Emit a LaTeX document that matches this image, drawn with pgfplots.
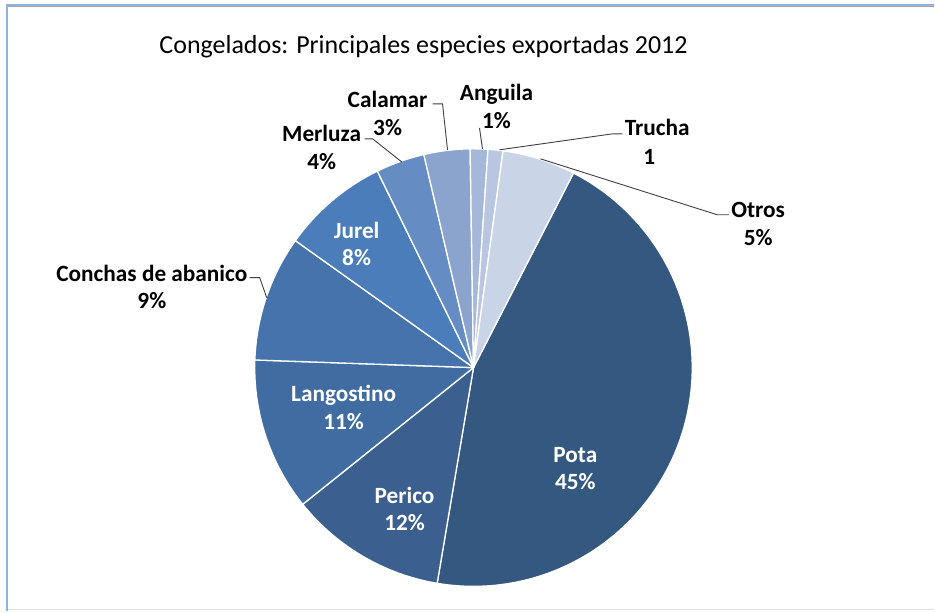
\documentclass[border=0pt]{standalone}
\usepackage{pgfplots}
\pgfplotsset{compat=1.18}
\usepackage{pgfplotstable}
\usepackage{fontspec}
\setmainfont{Carlito}

\definecolor{c0}{HTML}{34587F}
\definecolor{c1}{HTML}{3B6090}
\definecolor{c2}{HTML}{416CA2}
\definecolor{c3}{HTML}{4673AC}
\definecolor{c4}{HTML}{4B7DBA}
\definecolor{c5}{HTML}{668DC3}
\definecolor{c6}{HTML}{8AA4CE}
\definecolor{c7}{HTML}{A6B8DA}
\definecolor{c8}{HTML}{B9C6E2}
\definecolor{c9}{HTML}{CAD4E7}
\definecolor{frameblue}{HTML}{8EB2DE}
\definecolor{leader}{HTML}{404040}

% slice shares (percent), clockwise from "Pota"
\pgfplotstableread{
name value
Pota 45.1
Perico 11.6
Langostino 11.3
Conchas 9.3
Jurel 7.9
Merluza 3.6
Calamar 3.4
Anguila 1.3
Trucha 1.1
Otros 5.4
}\slices

\def\cumang{62.8}
\foreach \i in {0,...,9}{%
  \pgfplotstablegetelem{\i}{value}\of\slices
  \pgfmathsetmacro\endang{\cumang-3.6*\pgfplotsretval}%
  \expandafter\xdef\csname S\i\endcsname{\cumang}%
  \expandafter\xdef\csname E\i\endcsname{\endang}%
  \xdef\cumang{\endang}%
}

\begin{document}
\begin{tikzpicture}
\begin{axis}[
  x=1pt, y=1pt,
  xmin=0, xmax=935, ymin=0, ymax=612,
  hide axis, clip=false,
  anchor=origin, at={(0,0)},
]
\fill[white] (axis cs:0,0) rectangle (axis cs:935,612);
\draw[gray!25, line width=1pt] (axis cs:7,2) -- (axis cs:935,2);
\draw[gray!70, line width=1pt] (axis cs:7,605.5) -- (axis cs:935,605.5);
\draw[frameblue, line width=2pt] (axis cs:7,0) -- (axis cs:7,607) -- (axis cs:935,607);

\pgfplotsinvokeforeach{0,...,9}{%
  \edef\tmp{\noexpand\addplot[fill=c#1, draw=white, line width=1.3pt, line join=round,
     domain=\csname E#1\endcsname:\csname S#1\endcsname, samples=90, variable=\noexpand\t]}%
  \tmp ({474+219*cos(\t)},{244+219*sin(\t)}) -- (axis cs:474,244) -- cycle;
}

% leader lines
\addplot[leader, line width=0.9pt] coordinates {(433,508) (443,508) (448,462)};
\addplot[leader, line width=0.9pt] coordinates {(480,484) (483,463)};
\addplot[leader, line width=0.9pt] coordinates {(623,478) (613,478) (500,462)};
\addplot[leader, line width=0.9pt] coordinates {(730,397) (718,397) (541,453)};
\addplot[leader, line width=0.9pt] coordinates {(365,473) (373,473) (402,450)};
\addplot[leader, line width=0.9pt] coordinates {(250,334) (260,334) (267,314)};

% title
\node[font=\fontsize{26}{30}\selectfont] at (axis cs:424,565) {Congelados: Principales especies exportadas 2012};

% labels
\tikzset{lab/.style={font=\fontsize{23.3}{27.5}\selectfont\bfseries, align=center, inner sep=0pt}}
\node[lab] at (axis cs:388,498.5) {Calamar\\3\%};
\node[lab] at (axis cs:497,505.5) {Anguila\\1\%};
\node[lab] at (axis cs:658,484) {Trucha};
\node[lab] at (axis cs:650,455) {1};
\node[lab] at (axis cs:759,388) {Otros\\5\%};
\node[lab] at (axis cs:322,464.5) {Merluza\\4\%};
\node[lab, white] at (axis cs:357,368) {Jurel\\8\%};
\node[lab] at (axis cs:152,324.5) {Conchas de abanico\\9\%};
\node[lab, white] at (axis cs:344,204) {Langostino\\11\%};
\node[lab, white] at (axis cs:405,102.5) {Perico\\12\%};
\node[lab, white] at (axis cs:576,143) {Pota\\45\%};
\end{axis}
\end{tikzpicture}
\end{document}
